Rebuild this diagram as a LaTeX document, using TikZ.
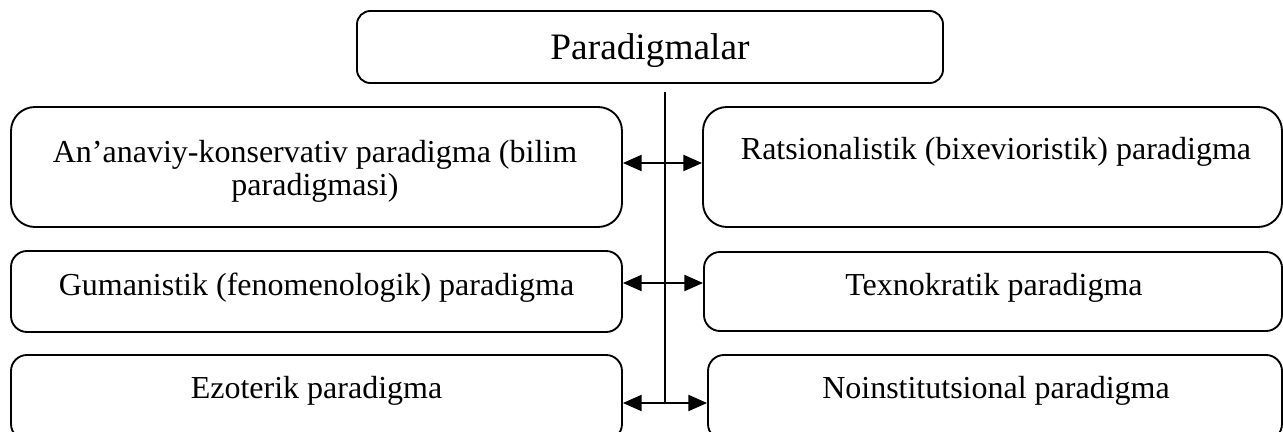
\documentclass[tikz,border=0pt]{standalone}
\usepackage{fontspec}
\setmainfont{Liberation Serif}
\usetikzlibrary{arrows.meta}
\begin{document}
\begin{tikzpicture}[x=0.75pt,y=-0.75pt,
  box/.style={draw, line width=1.4pt, inner sep=0pt, anchor=center},
  txt/.style={anchor=base, inner sep=0pt, font=\fontsize{24}{28}\selectfont},
  dbl/.style={line width=1.5pt, {Triangle[length=14pt,width=12pt]}-{Triangle[length=14pt,width=12pt]}},
  link/.style={line width=1.5pt}]
\useasboundingbox (0,0) rectangle (1283,432);
\clip (0,0) rectangle (1283,432);
% boxes
\node[box, rounded corners=10pt, minimum width=439.5pt, minimum height=54pt] (T) at (650,47) {};
\node[box, rounded corners=18pt, minimum width=458.25pt, minimum height=90pt] (L1) at (316.5,167) {};
\node[box, rounded corners=18pt, minimum width=434.25pt, minimum height=90pt] (R1) at (992.5,167) {};
\node[box, rounded corners=12pt, minimum width=458.25pt, minimum height=60.75pt] (L2) at (316.5,291.5) {};
\node[box, rounded corners=12pt, minimum width=433.5pt, minimum height=59.25pt] (R2) at (993,291.5) {};
\node[box, rounded corners=12pt, minimum width=458.25pt, minimum height=63.75pt] (L3) at (316.5,397.5) {};
\node[box, rounded corners=12pt, minimum width=430.5pt, minimum height=63.75pt] (R3) at (995,397.5) {};
% texts
\node[txt, font=\fontsize{28}{32}\selectfont] (tT) at (650,60) {Paradigmalar};
\node[txt] (tL1a) at (315,162) {An’anaviy-konservativ paradigma (bilim};
\node[txt] (tL1b) at (315,195.5) {paradigmasi)};
\node[txt] (tR1) at (996,159) {Ratsionalistik (bixevioristik) paradigma};
\node[txt] (tL2) at (316.5,295) {Gumanistik (fenomenologik) paradigma};
\node[txt] (tR2) at (994,295) {Texnokratik paradigma};
\node[txt] (tL3) at (316.5,398) {Ezoterik paradigma};
\node[txt] (tR3) at (996,398) {Noinstitutsional paradigma};
% connectors
\coordinate (vtop) at (665,92);
\coordinate (vbot) at (665,403);
\coordinate (a1) at (665,163);
\coordinate (a2) at (665,283);
\coordinate (a3) at (665,403);
\draw[link] (vtop) -- (vbot);
\draw[dbl] (a1 -| L1.east) -- (a1 -| R1.west);
\draw[dbl] (a2 -| L2.east) -- (a2 -| R2.west);
\draw[dbl] (a3 -| L3.east) -- (a3 -| R3.west);
\end{tikzpicture}
\end{document}
